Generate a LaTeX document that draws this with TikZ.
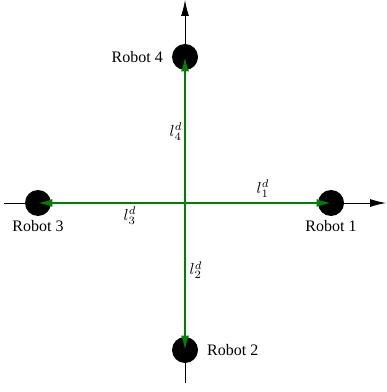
\documentclass[tikz,border=0pt]{standalone}
\usepackage{fontspec}
\setmainfont{Liberation Serif}
\usetikzlibrary{arrows.meta}
\begin{document}
\begin{tikzpicture}[x=0.625pt,y=-0.625pt,
    robot/.style={circle, fill=black, minimum size=16.25pt, inner sep=0pt},
    axis/.style={-{Latex[length=10pt,width=5pt]}, black, line width=0.6pt},
    link/.style={-{Latex[length=9pt,width=5pt]}, green!50!black, line width=1.2pt},
    lbl/.style={font=\fontsize{10}{12}\selectfont}]
    \useasboundingbox (0,0) rectangle (386,392);

    % axes
    \coordinate (west) at (4,203);
    \coordinate (east) at (386,203);
    \coordinate (north) at (185,0);
    \coordinate (south) at (185,383);
    \draw[axis] (west) -- (east);
    \draw[axis] (south) -- (north);

    % robots
    \coordinate (origin) at (185,203);
    \node[robot] (robot1) at (331,203) {};
    \node[robot] (robot2) at (185,350) {};
    \node[robot] (robot3) at (38,203) {};
    \node[robot] (robot4) at (185,57) {};

    \node[lbl, below=-1pt] (name1) at (robot1.south) {Robot 1};
    \node[lbl, right=2pt] (name2) at (robot2.east) {Robot 2};
    \node[lbl, below=-1pt] (name3) at (robot3.south) {Robot 3};
    \node[lbl, left=2pt] (name4) at (robot4.west) {Robot 4};

    % desired links
    \foreach \i in {1,...,4}
        \draw[link] (origin) -- (robot\i.center);

    \node[lbl] (len1) at (263,189) {$l_1^d$};
    \node[lbl] (len2) at (196,270) {$l_2^d$};
    \node[lbl] (len3) at (130,216) {$l_3^d$};
    \node[lbl] (len4) at (176,132) {$l_4^d$};
\end{tikzpicture}
\end{document}
